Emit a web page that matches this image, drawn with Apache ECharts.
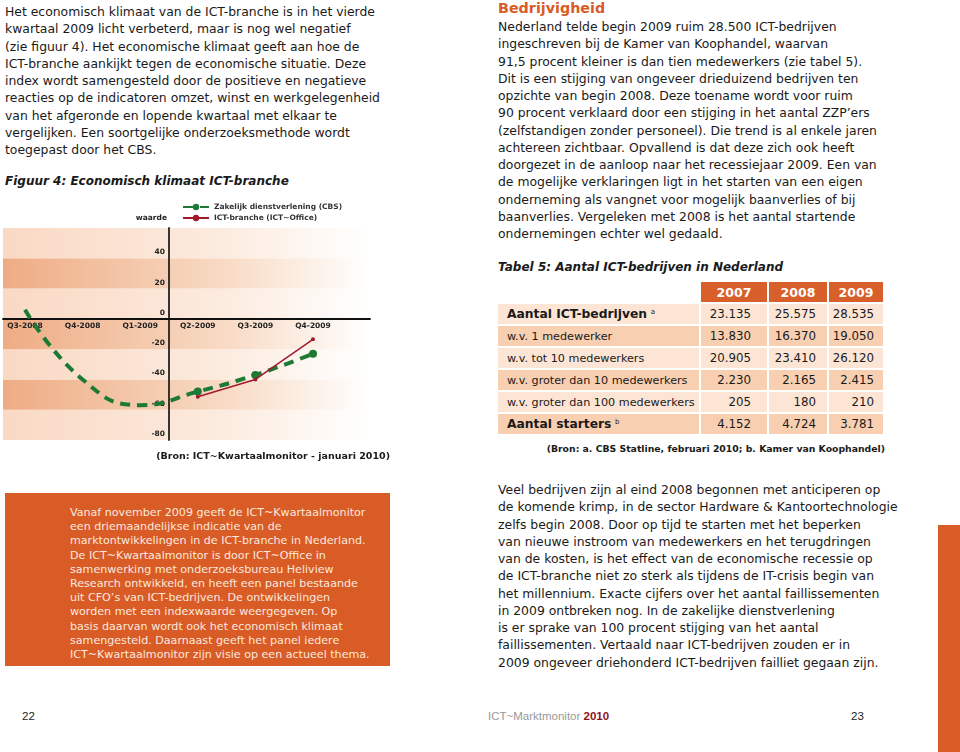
<!DOCTYPE html>
<html>
<head>
<meta charset="utf-8">
<script src="https://cdn.jsdelivr.net/npm/echarts@6/dist/echarts.min.js"></script>
<style>
  html,body{margin:0;padding:0;background:#fff;}
  body{width:960px;height:752px;position:relative;overflow:hidden;font-family:"DejaVu Sans",Verdana,sans-serif;color:#1a1a1a;}
  .abs{position:absolute;}
  .txt{font-size:12.4px;line-height:17.25px;white-space:nowrap;}
  .title-i{font-weight:bold;font-style:italic;font-size:12px;white-space:nowrap;}
  #box{left:5px;top:493px;width:385px;height:173px;background:#d95b26;}
  #boxtxt{left:70px;top:506px;font-size:11.1px;line-height:14.2px;color:#fbe9df;white-space:nowrap;}
  #strip{left:938px;top:525px;width:22px;height:227px;background:#d95b26;}
  table{border-collapse:separate;border-spacing:2px;font-size:11.2px;}
  td,th{height:20px;padding:0;white-space:nowrap;}
  th{background:#d95f2a;color:#fff;font-size:12.5px;font-weight:bold;text-align:center;}
  td.lab{padding-left:9px;}
  td.num{text-align:right;font-size:11.8px;}
  tr.light td{background:#fde5d5;}
  tr.dark td{background:#f9cfb2;}
  sup{font-size:7px;vertical-align:4px;}
  .foot{font-family:"Liberation Sans Narrow","Liberation Sans",sans-serif;font-size:11.5px;color:#222;}
</style>
</head>
<body>
<div class="abs txt" style="left:5px;top:3px;">Het economisch klimaat van de ICT-branche is in het vierde<br>kwartaal 2009 licht verbeterd, maar is nog wel negatief<br>(zie figuur 4). Het economische klimaat geeft aan hoe de<br>ICT-branche aankijkt tegen de economische situatie. Deze<br>index wordt samengesteld door de positieve en negatieve<br>reacties op de indicatoren omzet, winst en werkgelegenheid<br>van het afgeronde en lopende kwartaal met elkaar te<br>vergelijken. Een soortgelijke onderzoeksmethode wordt<br>toegepast door het CBS.</div>

<div class="abs title-i" style="left:5px;top:174px;">Figuur 4: Economisch klimaat ICT-branche</div>

<div id="chart" class="abs" style="left:0;top:190px;width:400px;height:265px;"></div>

<div class="abs" style="right:570px;top:450px;font-size:9.5px;font-weight:bold;white-space:nowrap;">(Bron: ICT~Kwartaalmonitor - januari 2010)</div>

<div id="box" class="abs"></div>
<div id="boxtxt" class="abs">Vanaf november 2009 geeft de ICT~Kwartaalmonitor<br>een driemaandelijkse indicatie van de<br>marktontwikkelingen in de ICT-branche in Nederland.<br>De ICT~Kwartaalmonitor is door ICT~Office in<br>samenwerking met onderzoeksbureau Heliview<br>Research ontwikkeld, en heeft een panel bestaande<br>uit CFO’s van ICT-bedrijven. De ontwikkelingen<br>worden met een indexwaarde weergegeven. Op<br>basis daarvan wordt ook het economisch klimaat<br>samengesteld. Daarnaast geeft het panel iedere<br>ICT~Kwartaalmonitor zijn visie op een actueel thema.</div>

<div class="abs" style="left:498px;top:0px;font-size:14.3px;font-weight:bold;color:#d95b26;white-space:nowrap;">Bedrijvigheid</div>
<div class="abs txt" style="left:498px;top:18px;">Nederland telde begin 2009 ruim 28.500 ICT-bedrijven<br>ingeschreven bij de Kamer van Koophandel, waarvan<br>91,5 procent kleiner is dan tien medewerkers (zie tabel 5).<br>Dit is een stijging van ongeveer drieduizend bedrijven ten<br>opzichte van begin 2008. Deze toename wordt voor ruim<br>90 procent verklaard door een stijging in het aantal ZZP’ers<br>(zelfstandigen zonder personeel). Die trend is al enkele jaren<br>achtereen zichtbaar. Opvallend is dat deze zich ook heeft<br>doorgezet in de aanloop naar het recessiejaar 2009. Een van<br>de mogelijke verklaringen ligt in het starten van een eigen<br>onderneming als vangnet voor mogelijk baanverlies of bij<br>baanverlies. Vergeleken met 2008 is het aantal startende<br>ondernemingen echter wel gedaald.</div>

<div class="abs title-i" style="left:498px;top:260px;">Tabel 5: Aantal ICT-bedrijven in Nederland</div>

<div id="tablewrap" class="abs" style="left:496px;top:280px;"></div>

<div class="abs" style="right:75px;top:443px;font-size:9.3px;font-weight:bold;white-space:nowrap;">(Bron: a. CBS Statline, februari 2010; b. Kamer van Koophandel)</div>

<div class="abs txt" style="left:498px;top:481px;">Veel bedrijven zijn al eind 2008 begonnen met anticiperen op<br>de komende krimp, in de sector Hardware &amp; Kantoortechnologie<br>zelfs begin 2008. Door op tijd te starten met het beperken<br>van nieuwe instroom van medewerkers en het terugdringen<br>van de kosten, is het effect van de economische recessie op<br>de ICT-branche niet zo sterk als tijdens de IT-crisis begin van<br>het millennium. Exacte cijfers over het aantal faillissementen<br>in 2009 ontbreken nog. In de zakelijke dienstverlening<br>is er sprake van 100 procent stijging van het aantal<br>faillissementen. Vertaald naar ICT-bedrijven zouden er in<br>2009 ongeveer driehonderd ICT-bedrijven failliet gegaan zijn.</div>

<div id="strip" class="abs"></div>

<div class="abs foot" style="left:22px;top:710px;">22</div>
<div class="abs foot" style="left:488px;top:710px;color:#999;">ICT~Marktmonitor <b style="color:#8b1424;">2010</b></div>
<div class="abs foot" style="left:851px;top:710px;">23</div>

<script>
// ---- chart data ----
const categories = ['Q3-2008', 'Q4-2008', 'Q1-2009', 'Q2-2009', 'Q3-2009', 'Q4-2009'];
const cbsValues = [6, -40, -57, -48, -37, -23];          // Zakelijk dienstverlening (CBS)
const ictValues = [null, null, null, -51.5, -40, -13.5]; // ICT-branche (ICT~Office)
const yTickValues = [-80, -60, -40, -20, 0, 20, 40];

// ---- table data ----
const tableYears = ['2007', '2008', '2009'];
const tableRows = [
  'Aantal ICT-bedrijven', 'w.v. 1 medewerker', 'w.v. tot 10 medewerkers',
  'w.v. groter dan 10 medewerkers', 'w.v. groter dan 100 medewerkers', 'Aantal starters'
];
const tableNotes = ['a', '', '', '', '', 'b'];
const tableBold = [true, false, false, false, false, true];
const values2007 = ['23.135', '13.830', '20.905', '2.230', '205', '4.152'];
const values2008 = ['25.575', '16.370', '23.410', '2.165', '180', '4.724'];
const values2009 = ['28.535', '19.050', '26.120', '2.415', '210', '3.781'];

// build table
(function () {
  const colW = [201, 66, 58, 54];
  const padR = [0, 16, 11, 9];
  let h = '<table><tr><th style="width:' + colW[0] + 'px;background:#fff"></th>';
  tableYears.forEach((y, i) => { h += '<th style="width:' + colW[i + 1] + 'px">' + y + '</th>'; });
  h += '</tr>';
  tableRows.forEach((r, i) => {
    const cls = i % 2 === 0 ? 'light' : 'dark';
    const lab = tableBold[i] ? '<b style="font-size:12.3px">' + r + '</b>' : r;
    const note = tableNotes[i] ? ' <sup>' + tableNotes[i] + '</sup>' : '';
    h += '<tr class="' + cls + '"><td class="lab">' + lab + note + '</td>';
    [values2007, values2008, values2009].forEach((arr, j) => {
      h += '<td class="num" style="padding-right:' + padR[j + 1] + 'px">' + arr[i] + '</td>';
    });
    h += '</tr>';
  });
  h += '</table>';
  document.getElementById('tablewrap').innerHTML = h;
})();

// ---- chart ----
const center = (categories.length - 1) / 2;
const pos = i => i - center;

const chart = echarts.init(document.getElementById('chart'), null, { renderer: 'canvas' });

function band(c0, c1, c2) {
  return new echarts.graphic.LinearGradient(0, 0, 1, 0, [
    { offset: 0, color: c0 },
    { offset: 0.6, color: c1 },
    { offset: 1, color: c2 }
  ]);
}

const font = '"DejaVu Sans", Verdana, sans-serif';

const G = { left: 3, top: 38, width: 367, height: 212 };
const xMin = pos(0) - 0.382, xMax = pos(categories.length - 1) + 0.99;
const yMin = -80, yMax = 60;
// shift axes so they cross at the zero of the other axis
const yAxisOffset = -G.width * (0 - xMin) / (xMax - xMin);
const xAxisOffset = -G.height * (0 - yMin) / (yMax - yMin);

chart.setOption({
  animation: false,
  grid: Object.assign({ containLabel: false, outerBoundsMode: 'none' }, G),
  legend: {
    orient: 'vertical',
    left: 177,
    top: 8,
    itemWidth: 26,
    itemHeight: 8,
    itemGap: 3,
    textStyle: { fontFamily: font, fontSize: 7.5, fontWeight: 'bold', color: '#333' },
    data: ['Zakelijk dienstverlening (CBS)', 'ICT-branche (ICT~Office)']
  },
  xAxis: {
    type: 'value',
    min: xMin,
    max: xMax,
    position: 'bottom',
    offset: xAxisOffset,
    axisLine: { show: true, onZero: false, lineStyle: { color: '#111', width: 1.8 } },
    axisTick: { show: false },
    splitLine: { show: false },
    axisLabel: {
      customValues: categories.map((c, i) => pos(i)),
      formatter: v => categories[Math.round(v + center)],
      fontFamily: font, fontSize: 7.5, fontWeight: 'bold', color: '#222', margin: 3
    }
  },
  yAxis: {
    type: 'value',
    min: yMin, max: yMax, interval: 20,
    position: 'left',
    offset: yAxisOffset,
    name: 'waarde',
    nameLocation: 'end',
    nameGap: 6,
    nameTextStyle: { fontFamily: font, fontSize: 7.5, fontWeight: 'bold', color: '#222', align: 'right', padding: [0, 2, 0, 0] },
    axisLine: { show: true, onZero: false, lineStyle: { color: '#222', width: 1.8 } },
    axisTick: { show: false },
    splitLine: { show: false },
    splitArea: {
      show: true,
      areaStyle: {
        color: [
          band('#f9d9c4', '#fcebdf', '#ffffff'),
          band('#eeac84', '#f8dac4', '#ffffff')
        ]
      }
    },
    axisLabel: {
      customValues: yTickValues,
      fontFamily: font, fontSize: 7.5, fontWeight: 'bold', color: '#222', margin: 4,
      verticalAlign: 'bottom', padding: [0, 0, 2, 0]
    }
  },
  series: [
    {
      name: 'Zakelijk dienstverlening (CBS)',
      type: 'line',
      smooth: 0.5,
      symbol: 'circle',
      symbolSize: 8,
      color: '#1d7a35',
      lineStyle: { color: '#1d7a35', width: 4, type: [10, 7] },
      itemStyle: { color: '#1d7a35' },
      data: cbsValues.map((v, i) => ({
        value: [pos(i), v],
        symbol: ictValues[i] === null ? 'none' : 'circle'
      })),
      z: 3
    },
    {
      name: 'ICT-branche (ICT~Office)',
      type: 'line',
      symbol: 'circle',
      symbolSize: 4,
      color: '#a11a2c',
      lineStyle: { color: '#a11a2c', width: 1.5 },
      itemStyle: { color: '#a11a2c' },
      data: ictValues.map((v, i) => [pos(i), v]).filter(d => d[1] !== null),
      z: 4
    }
  ]
});
</script>
</body>
</html>
